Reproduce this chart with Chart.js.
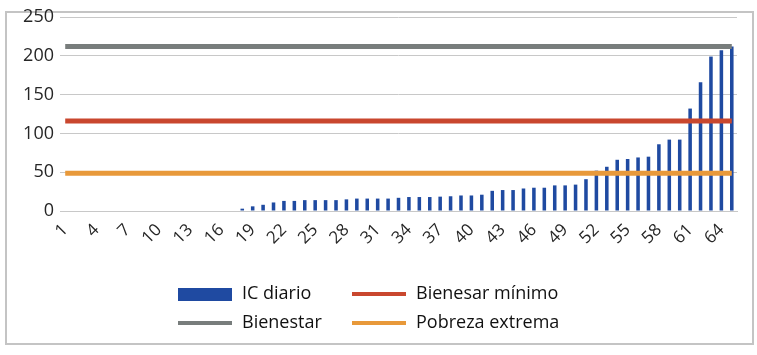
<!DOCTYPE html>
<html>
<head>
<meta charset="utf-8">
<script src="https://cdn.jsdelivr.net/npm/chart.js@4/dist/chart.umd.min.js"></script>
<style>
    body { margin: 0; background: #fff; }
    #wrap { position: relative; width: 757px; height: 355px; }
    #frame { position: absolute; left: 5px; top: 11px; width: 745px; height: 330px; border: 2px solid #c4c4c4; }
    canvas { position: absolute; left: 0; top: 0; }
    .leg { position: absolute; font-family: "Open Sans", sans-serif; font-size: 18px; color: #111; white-space: nowrap; }
    .sw { position: absolute; width: 54px; }
</style>
</head>
<body>
<div id="wrap">
    <div id="frame"></div>
    <canvas id="myChart" width="757" height="355"></canvas>
    <div id="legend"></div>
</div>
<script>
// categories 1..65
const days = ["1","2","3","4","5","6","7","8","9","10","11","12","13","14","15","16","17","18","19","20",
    "21","22","23","24","25","26","27","28","29","30","31","32","33","34","35","36","37","38","39","40",
    "41","42","43","44","45","46","47","48","49","50","51","52","53","54","55","56","57","58","59","60",
    "61","62","63","64","65"];

const icDiario = [0,0,0,0,0,0,0,0,0,0,0,0,0,0,0,0,0,
    3,6,8,11,13,13,14,14,14,14,15,16,16,16,16,17,18,18,18,18.5,19,20,20,21,
    26,27,27,29,30,30,33,33,34,41,52,57,66,67,69,70,86,92,92,132,166,199,207,212];

const bienestar = 212;
const bienesarMinimo = 116;
const pobrezaExtrema = 48.5;

const yTicks = [0, 50, 100, 150, 200, 250];

// flat reference line from the first to the last day
function refLine(v) {
    return [{x: days[0], y: v}, {x: days[days.length - 1], y: v}];
}

const ctx = document.getElementById('myChart').getContext('2d');
const chart = new Chart(ctx, {
    type: 'bar',
    data: {
        labels: days,
        datasets: [
            {label: 'IC diario', data: icDiario, backgroundColor: '#1f4aa1', order: 2,
                barPercentage: 0.34, categoryPercentage: 1},
            {type: 'line', label: 'Bienesar mínimo', data: refLine(bienesarMinimo), borderColor: '#c9472e',
                backgroundColor: '#c9472e', borderWidth: 5, pointRadius: 0, order: 1},
            {type: 'line', label: 'Bienestar', data: refLine(bienestar), borderColor: '#787d7c',
                backgroundColor: '#787d7c', borderWidth: 5, pointRadius: 0, order: 1},
            {type: 'line', label: 'Pobreza extrema', data: refLine(pobrezaExtrema), borderColor: '#e8993a',
                backgroundColor: '#e8993a', borderWidth: 5, pointRadius: 0, order: 1}
        ]
    },
    options: {
        responsive: false,
        animation: false,
        layout: {padding: {left: 6, right: 20, top: 17, bottom: 104}},
        plugins: {legend: {display: false}, tooltip: {enabled: false}},
        scales: {
            x: {
                grid: {display: false},
                border: {color: '#c8c8c8'},
                ticks: {
                    autoSkip: false, maxRotation: 45, minRotation: 45, padding: 1,
                    color: '#262626', font: {family: 'Open Sans', size: 17},
                    callback: (v, i) => i % 3 === 0 ? days[i] : ''
                },
                afterFit: s => { s.height = 40; }
            },
            y: {
                min: 0, max: 250,
                afterBuildTicks: s => { s.ticks = yTicks.map(v => ({value: v})); },
                grid: {color: '#c8c8c8', drawTicks: false},
                border: {display: false},
                ticks: {padding: 6, color: '#262626', font: {family: 'Open Sans', size: 18}},
                afterFit: s => { s.width = 54; }
            }
        }
    }
});

// legend in two rows, two columns
const legendPos = [
    {ds: 0, x: 178, y: 294},
    {ds: 1, x: 352, y: 294},
    {ds: 2, x: 178, y: 323},
    {ds: 3, x: 352, y: 323}
];
const legend = document.getElementById('legend');
legendPos.forEach(p => {
    const ds = chart.data.datasets[p.ds];
    const sw = document.createElement('div');
    sw.className = 'sw';
    const h = ds.type === 'line' ? 4 : 13;
    sw.style.left = p.x + 'px';
    sw.style.top = (p.y - h / 2) + 'px';
    sw.style.height = h + 'px';
    sw.style.background = ds.backgroundColor;
    legend.appendChild(sw);
    const t = document.createElement('div');
    t.className = 'leg';
    t.textContent = ds.label;
    t.style.left = (p.x + 64) + 'px';
    t.style.top = (p.y - 14) + 'px';
    legend.appendChild(t);
});
</script>
</body>
</html>
